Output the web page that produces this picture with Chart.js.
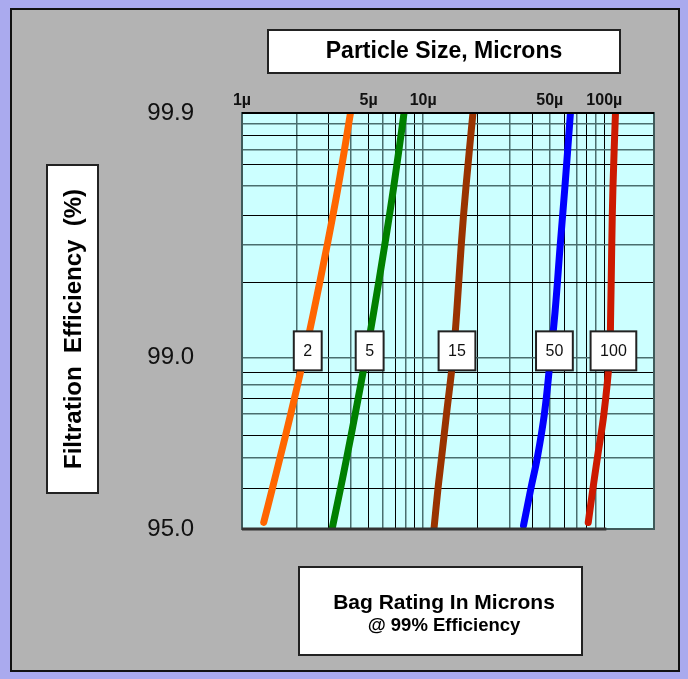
<!DOCTYPE html>
<html><head><meta charset="utf-8">
<script src="https://cdn.jsdelivr.net/npm/chart.js@4.4.1/dist/chart.umd.min.js"></script>
<style>html,body{margin:0;padding:0;background:#AAAAEE;}canvas{display:block;}</style>
</head><body>
<canvas id="c" width="688" height="679"></canvas>
<script>
// ---- data ----
const sizeTicks = [1,2,3,4,5,6,7,8,9,10,20,30,40,50,60,70,80,90,100];
const sizeLabelTicks = [1,5,10,50,100];
const sizeMin = 1, sizeMax = 188;
const effGrid = [99.9,99.889,99.877,99.8585,99.837,99.802,99.738,99.654,99.507,99.0,98.855,98.71,98.53,98.31,97.92,97.44,96.58,95.0];
const effLabelTicks = [99.9, 99.0, 95.0];
const ratings = ['2','5','15','50','100'];
const ratingEff = 99.0;

const size2   = [1.318,1.470,1.623,1.860,2.192,2.480,2.956,3.396,3.971];
const eff2    = [95.3,96.58,97.45,98.31,99.0,99.345,99.655,99.80,99.9];
const size5   = [3.142,3.497,3.787,4.22,4.815,5.325,6.14,6.88,7.84];
const eff5    = [95.0,96.58,97.45,98.31,99.0,99.345,99.655,99.80,99.9];
const size15  = [11.47,12.07,12.64,13.46,14.61,15.31,16.23,17.23,18.83];
const eff15   = [95.0,96.58,97.45,98.31,99.0,99.345,99.655,99.80,99.9];
const size50  = [35.8,39.3,42.7,46.7,50.4,53.4,57.1,60.6,65.0];
const eff50   = [95.16,96.58,97.45,98.31,99.0,99.345,99.655,99.80,99.9];
const size100 = [81.5,86.5,91.6,99.5,106.7,108.4,109.9,111.6,115.2];
const eff100  = [95.3,96.58,97.45,98.31,99.0,99.345,99.655,99.80,99.9];

const seriesSizes = [size2, size5, size15, size50, size100];
const seriesEffs  = [eff2, eff5, eff15, eff50, eff100];
const seriesColors = ['#FF6600','#008000','#993300','#0000FF','#CC1A00'];

// penetration (100 - efficiency) is plotted on a reversed log axis
const pen = e => 100 - e;

const datasets = seriesSizes.map((xs, i) => ({
  label: ratings[i],
  data: xs.map((x, j) => ({x: x, y: pen(seriesEffs[i][j])})),
  borderColor: seriesColors[i],
  borderWidth: 7,
  borderCapStyle: 'round',
  borderJoinStyle: 'round',
  pointRadius: 0,
  tension: 0.4,
  fill: false,
  clip: 0
}));

function box(ctx, x, y, w, h, lw) {
  ctx.fillStyle = '#FFFFFF';
  ctx.fillRect(x, y, w, h);
  ctx.lineWidth = lw;
  ctx.strokeStyle = '#222222';
  ctx.strokeRect(x, y, w, h);
}

const deco = {
  id: 'deco',
  beforeDraw(chart) {
    const {ctx, chartArea: a} = chart;
    ctx.save();
    ctx.fillStyle = '#AAAAEE';
    ctx.fillRect(0, 0, chart.width, chart.height);
    ctx.fillStyle = '#B3B3B3';
    ctx.fillRect(11, 9, 668, 662);
    ctx.strokeStyle = '#111111';
    ctx.lineWidth = 2;
    ctx.strokeRect(11, 9, 668, 662);
    ctx.fillStyle = '#CCFFFF';
    ctx.fillRect(a.left, a.top, a.right - a.left, a.bottom - a.top);
    ctx.restore();
  },
  afterDatasetsDraw(chart) {
    const {ctx, chartArea: a} = chart;
    const xs = chart.scales.x;
    ctx.save();
    ctx.strokeStyle = '#3f5a5a';
    ctx.lineWidth = 2;
    ctx.strokeRect(a.left, a.top, a.right - a.left, a.bottom - a.top);
    ctx.strokeStyle = '#000';
    ctx.beginPath(); ctx.moveTo(a.left, a.top); ctx.lineTo(a.right, a.top); ctx.stroke();
    ctx.strokeStyle = '#333';
    ctx.lineWidth = 3;
    ctx.beginPath(); ctx.moveTo(a.left, a.bottom); ctx.lineTo(xs.getPixelForValue(100) + 2, a.bottom); ctx.stroke();
    ctx.restore();
  },
  afterDraw(chart) {
    const {ctx} = chart;
    const xs = chart.scales.x, ys = chart.scales.y;
    ctx.save();
    // rating boxes at 99% efficiency
    ctx.font = '16px Arial, "Liberation Sans", sans-serif';
    ctx.textAlign = 'center';
    ctx.textBaseline = 'middle';
    seriesSizes.forEach((sz, i) => {
      const k = seriesEffs[i].indexOf(ratingEff);
      const cx = xs.getPixelForValue(sz[k]) + 4;
      const cy = ys.getPixelForValue(pen(ratingEff)) - 7;
      const tw = ctx.measureText(ratings[i]).width;
      const w = Math.max(26, tw + 19), h = 39;
      box(ctx, cx - w / 2, cy - h / 2, w, h, 2);
      ctx.fillStyle = '#111';
      ctx.fillText(ratings[i], cx, cy + 1);
    });
    // title box
    box(ctx, 268, 30, 352, 43, 2);
    ctx.fillStyle = '#000';
    ctx.font = 'bold 23px Arial, "Liberation Sans", sans-serif';
    ctx.fillText('Particle Size, Microns', 444, 52);
    // y title box
    box(ctx, 47, 165, 51, 328, 2);
    ctx.save();
    ctx.translate(73, 329);
    ctx.rotate(-Math.PI / 2);
    ctx.fillStyle = '#000';
    ctx.font = 'bold 24px Arial, "Liberation Sans", sans-serif';
    ctx.fillText('Filtration  Efficiency  (%)', 0, 1);
    ctx.restore();
    // bottom box
    box(ctx, 299, 567, 283, 88, 2);
    ctx.fillStyle = '#000';
    ctx.font = 'bold 21px Arial, "Liberation Sans", sans-serif';
    ctx.fillText('Bag Rating In Microns', 444, 603);
    ctx.font = 'bold 18.5px Arial, "Liberation Sans", sans-serif';
    ctx.fillText('@ 99% Efficiency', 444, 626);
    ctx.restore();
  }
};

const gridColor = c => (c.index % 2 ? '#4a6e6e' : '#000000');
const gridWidth = c => (c.index % 2 ? 1.5 : 1);

new Chart(document.getElementById('c'), {
  type: 'line',
  data: {datasets},
  options: {
    responsive: false,
    animation: false,
    events: [],
    layout: {padding: {left: 0, top: 0, right: 34, bottom: 150}},
    plugins: {legend: {display: false}, tooltip: {enabled: false}},
    scales: {
      x: {
        type: 'logarithmic',
        position: 'top',
        min: sizeMin,
        max: sizeMax,
        bounds: 'data',
        afterBuildTicks: s => { s.ticks = sizeTicks.map(v => ({value: v})); },
        afterFit: s => { s.height = 113; },
        grid: {drawTicks: false, color: gridColor, lineWidth: gridWidth},
        border: {display: false},
        ticks: {
          autoSkip: false, maxRotation: 0, padding: 3,
          color: '#111',
          font: {family: 'Arial, "Liberation Sans", sans-serif', size: 16, weight: 'bold'},
          callback: v => (sizeLabelTicks.includes(v) ? v + 'µ' : '')
        }
      },
      y: {
        type: 'logarithmic',
        position: 'left',
        reverse: true,
        min: pen(Math.max(...effGrid)),
        max: pen(Math.min(...effGrid)),
        bounds: 'data',
        afterBuildTicks: s => { s.ticks = effGrid.map(e => ({value: pen(e)})); },
        afterFit: s => { s.width = 242; },
        grid: {drawTicks: false, color: gridColor, lineWidth: gridWidth},
        border: {display: false},
        ticks: {
          autoSkip: false, padding: 48,
          color: '#111',
          font: {family: 'Arial, "Liberation Sans", sans-serif', size: 24},
          callback: v => {
            const e = 100 - v;
            const hit = effLabelTicks.find(t => Math.abs(t - e) < 1e-6);
            return hit !== undefined ? hit.toFixed(1) : '';
          }
        }
      }
    }
  },
  plugins: [deco]
});
</script>
</body></html>
